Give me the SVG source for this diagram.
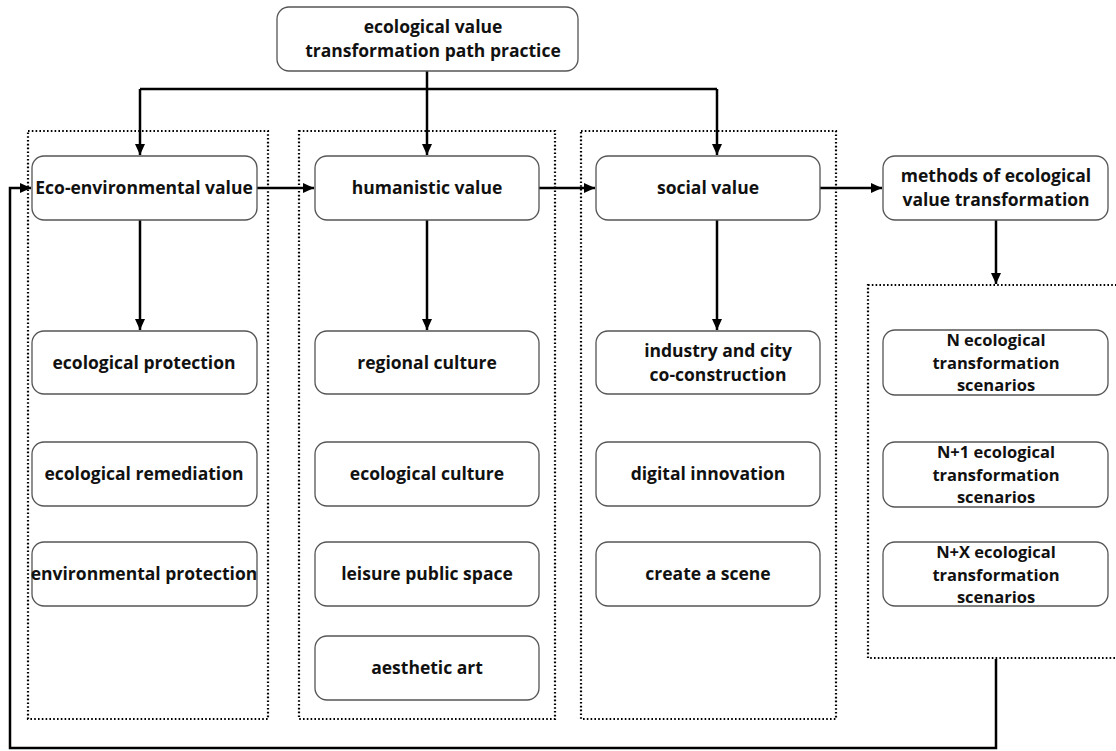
<svg xmlns="http://www.w3.org/2000/svg" width="1116" height="751" viewBox="0 0 1116 751">
  <defs>
    <marker id="arr" markerUnits="userSpaceOnUse" markerWidth="12" markerHeight="12" viewBox="0 0 12 12" refX="11" refY="6" orient="auto">
      <path d="M0,1 L11,6 L0,11 Z" fill="#000"/>
    </marker>
    <style>
      .node rect{fill:#fff;stroke:#555;stroke-width:1.3}
      .node text{font-family:"Open Sans","Noto Sans",sans-serif;font-weight:700;font-size:17.5px;fill:#111;text-anchor:middle}
      .node text.s3{font-size:16.5px}
      .grp{fill:none;stroke:#000;stroke-width:2.2;stroke-dasharray:1.6 2.2}
      .conn path{fill:none;stroke:#000;stroke-width:2.5}
    </style>
  </defs>
  <rect width="1116" height="751" fill="#fff"/>

  <g id="containers">
    <rect class="grp" x="28" y="131" width="240" height="588"/>
    <rect class="grp" x="299" y="131" width="256" height="588"/>
    <rect class="grp" x="581" y="131" width="255" height="588"/>
    <rect class="grp" x="868" y="285" width="260" height="373"/>
  </g>

  <g class="conn" id="connectors">
    <path d="M427,71 V155" marker-end="url(#arr)"/>
    <path d="M140,89 H717"/>
    <path d="M140,89 V155" marker-end="url(#arr)"/>
    <path d="M717,89 V155" marker-end="url(#arr)"/>
    <path d="M257,188 H314" marker-end="url(#arr)"/>
    <path d="M539,188 H595" marker-end="url(#arr)"/>
    <path d="M820,188 H882" marker-end="url(#arr)"/>
    <path d="M140,220 V330" marker-end="url(#arr)"/>
    <path d="M427,220 V330" marker-end="url(#arr)"/>
    <path d="M717,220 V330" marker-end="url(#arr)"/>
    <path d="M996,220 V284" marker-end="url(#arr)"/>
    <path d="M996,659 V748 H10 V188 H31" marker-end="url(#arr)"/>
  </g>

  <g class="node" id="n-top">
    <rect x="277" y="7" width="301" height="64" rx="12"/>
    <text x="433" y="33"><tspan x="433">ecological value</tspan><tspan x="433" dy="24">transformation path practice</tspan></text>
  </g>

  <g class="node" id="n-eco">
    <rect x="32" y="156" width="225" height="64" rx="12"/>
    <text x="144" y="194">Eco-environmental value</text>
  </g>
  <g class="node" id="n-hum">
    <rect x="315" y="156" width="224" height="64" rx="12"/>
    <text x="427" y="194">humanistic value</text>
  </g>
  <g class="node" id="n-soc">
    <rect x="596" y="156" width="224" height="64" rx="12"/>
    <text x="708" y="194">social value</text>
  </g>
  <g class="node" id="n-meth">
    <rect x="883" y="156" width="225" height="64" rx="12"/>
    <text x="996" y="182"><tspan x="996">methods of ecological</tspan><tspan x="996" dy="24">value transformation</tspan></text>
  </g>

  <g class="node" id="n-ecoprot">
    <rect x="32" y="331" width="225" height="63" rx="12"/>
    <text x="144" y="369">ecological protection</text>
  </g>
  <g class="node" id="n-ecorem">
    <rect x="32" y="442" width="225" height="64" rx="12"/>
    <text x="144" y="480">ecological remediation</text>
  </g>
  <g class="node" id="n-envprot">
    <rect x="32" y="542" width="225" height="64" rx="12"/>
    <text x="144" y="580">environmental protection</text>
  </g>

  <g class="node" id="n-regcul">
    <rect x="315" y="331" width="224" height="63" rx="12"/>
    <text x="427" y="369">regional culture</text>
  </g>
  <g class="node" id="n-ecocul">
    <rect x="315" y="442" width="224" height="64" rx="12"/>
    <text x="427" y="480">ecological culture</text>
  </g>
  <g class="node" id="n-leisure">
    <rect x="315" y="542" width="224" height="64" rx="12"/>
    <text x="427" y="580">leisure public space</text>
  </g>
  <g class="node" id="n-aes">
    <rect x="315" y="636" width="224" height="64" rx="12"/>
    <text x="427" y="674">aesthetic art</text>
  </g>

  <g class="node" id="n-ind">
    <rect x="596" y="331" width="224" height="63" rx="12"/>
    <text x="718" y="357"><tspan x="718">industry and city</tspan><tspan x="718" dy="24">co-construction</tspan></text>
  </g>
  <g class="node" id="n-dig">
    <rect x="596" y="442" width="224" height="64" rx="12"/>
    <text x="708" y="480">digital innovation</text>
  </g>
  <g class="node" id="n-scene">
    <rect x="596" y="542" width="224" height="64" rx="12"/>
    <text x="708" y="580">create a scene</text>
  </g>

  <g class="node" id="n-N">
    <rect x="883" y="330" width="225" height="65" rx="12"/>
    <text class="s3" x="996" y="346"><tspan x="996">N ecological</tspan><tspan x="996" dy="22.5">transformation</tspan><tspan x="996" dy="22.5">scenarios</tspan></text>
  </g>
  <g class="node" id="n-N1">
    <rect x="883" y="442" width="225" height="65" rx="12"/>
    <text class="s3" x="996" y="458"><tspan x="996">N+1 ecological</tspan><tspan x="996" dy="22.5">transformation</tspan><tspan x="996" dy="22.5">scenarios</tspan></text>
  </g>
  <g class="node" id="n-NX">
    <rect x="883" y="542" width="225" height="64" rx="12"/>
    <text class="s3" x="996" y="558"><tspan x="996">N+X ecological</tspan><tspan x="996" dy="22.5">transformation</tspan><tspan x="996" dy="22.5">scenarios</tspan></text>
  </g>
</svg>
